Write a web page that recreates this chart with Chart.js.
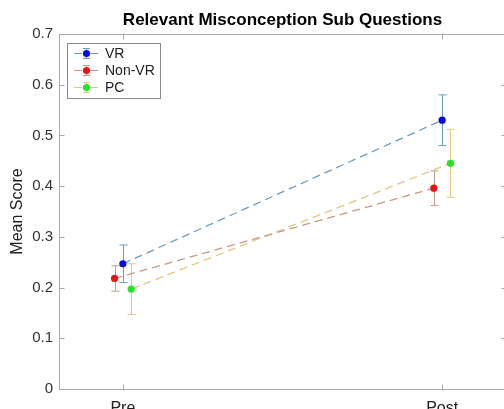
<!DOCTYPE html>
<html>
<head>
<meta charset="utf-8">
<script src="https://cdn.jsdelivr.net/npm/chart.js@4/dist/chart.umd.min.js"></script>
<style>
html,body{margin:0;padding:0;overflow:hidden;background:#fff;}
#wrap{position:absolute;left:0;top:0;width:512px;height:420px;}
</style>
</head>
<body>
<div id="wrap"><canvas id="c" width="512" height="420"></canvas></div>
<script>
// ---- data ----
const categories = ['Pre', 'Post'];
const seriesNames = ['VR', 'Non-VR', 'PC'];
const vrMean = [0.247, 0.530];
const vrErr = [0.037, 0.050];
const nonVrMean = [0.218, 0.396];
const nonVrErr = [0.025, 0.034];
const pcMean = [0.197, 0.445];
const pcErr = [0.050, 0.067];
const yTicks = [0, 0.1, 0.2, 0.3, 0.4, 0.5, 0.6, 0.7];
const chartTitle = 'Relevant Misconception Sub Questions';
const yTitle = 'Mean Score';

// ---- styles ----
const lineColors = ['#6a9fbd', '#c49a86', '#e3c77f'];
const markerColors = ['#0a0ae6', '#e81414', '#22e622'];
const xOffsets = [0, -0.026, 0.026];
const FONT = '"Liberation Sans", Arial, Helvetica, sans-serif';
const AXIS = '#a9a9a9';

const means = [vrMean, nonVrMean, pcMean];
const errs = [vrErr, nonVrErr, pcErr];

const datasets = seriesNames.map((name, s) => ({
  label: name,
  data: categories.map((c, i) => ({x: i + 1 + xOffsets[s], y: means[s][i], e: errs[s][i]})),
  borderColor: lineColors[s],
  borderWidth: 1.3,
  borderDash: [8, 5],
  pointRadius: 3.6,
  pointBackgroundColor: markerColors[s],
  pointBorderColor: markerColors[s],
  pointBorderWidth: 0,
  fill: false,
  tension: 0
}));

const decor = {
  id: 'decor',
  beforeDatasetsDraw(chart) {
    const ctx = chart.ctx, xs = chart.scales.x, ys = chart.scales.y;
    ctx.save();
    chart.data.datasets.forEach((ds, s) => {
      ctx.strokeStyle = lineColors[s];
      ctx.lineWidth = 1;
      ds.data.forEach(p => {
        const px = Math.round(xs.getPixelForValue(p.x)) + 0.5;
        const t = ys.getPixelForValue(p.y + p.e);
        const b = ys.getPixelForValue(p.y - p.e);
        ctx.beginPath();
        ctx.moveTo(px, t); ctx.lineTo(px, b);
        ctx.moveTo(px - 4, t); ctx.lineTo(px + 4, t);
        ctx.moveTo(px - 4, b); ctx.lineTo(px + 4, b);
        ctx.stroke();
      });
    });
    ctx.restore();
  },
  afterDraw(chart) {
    const ctx = chart.ctx, xs = chart.scales.x, ys = chart.scales.y;
    const a = chart.chartArea;
    ctx.save();
    // titles
    ctx.fillStyle = '#000';
    ctx.font = 'bold 17px ' + FONT;
    ctx.textAlign = 'center';
    ctx.textBaseline = 'middle';
    ctx.fillText(chartTitle, (a.left + a.right) / 2, 20);
    ctx.save();
    ctx.translate(18, (a.top + a.bottom) / 2);
    ctx.rotate(-Math.PI / 2);
    ctx.fillStyle = '#222';
    ctx.font = '16px ' + FONT;
    ctx.fillText(yTitle, 0, 0);
    ctx.restore();

    // box and inward ticks
    ctx.strokeStyle = AXIS;
    ctx.lineWidth = 1;
    const L = Math.round(a.left) + 0.5, R = Math.round(a.right) + 0.5;
    const T = Math.round(a.top) + 0.5, B = Math.round(a.bottom) + 0.5;
    ctx.strokeRect(L, T, R - L, B - T);
    ctx.beginPath();
    yTicks.forEach(v => {
      const py = Math.round(ys.getPixelForValue(v)) + 0.5;
      ctx.moveTo(L, py); ctx.lineTo(L + 5, py);
      ctx.moveTo(R, py); ctx.lineTo(R - 5, py);
    });
    categories.forEach((c, i) => {
      const px = Math.round(xs.getPixelForValue(i + 1)) + 0.5;
      ctx.moveTo(px, B); ctx.lineTo(px, B - 5);
      ctx.moveTo(px, T); ctx.lineTo(px, T + 5);
    });
    ctx.stroke();

    // legend
    const lx = 67.5, ly = 43.5, lw = 93, lh = 55;
    ctx.fillStyle = '#fff';
    ctx.fillRect(lx, ly, lw, lh);
    ctx.strokeStyle = '#8a8a8a';
    ctx.strokeRect(lx, ly, lw, lh);
    seriesNames.forEach((name, s) => {
      const cy = 53 + s * 17;
      const mx = 86;
      ctx.strokeStyle = lineColors[s];
      ctx.lineWidth = 1;
      ctx.beginPath();
      ctx.moveTo(74, cy + 0.5); ctx.lineTo(82, cy + 0.5);
      ctx.moveTo(90, cy + 0.5); ctx.lineTo(98, cy + 0.5);
      ctx.moveTo(mx + 0.5, cy - 5); ctx.lineTo(mx + 0.5, cy + 5);
      ctx.moveTo(mx - 3, cy - 5 + 0.5); ctx.lineTo(mx + 4, cy - 5 + 0.5);
      ctx.moveTo(mx - 3, cy + 5 + 0.5); ctx.lineTo(mx + 4, cy + 5 + 0.5);
      ctx.stroke();
      ctx.fillStyle = markerColors[s];
      ctx.beginPath();
      ctx.arc(mx + 0.5, cy + 0.5, 3.6, 0, Math.PI * 2);
      ctx.fill();
      ctx.fillStyle = '#222';
      ctx.font = '14px ' + FONT;
      ctx.textBaseline = 'middle';
      ctx.textAlign = 'left';
      ctx.fillText(name, 105, cy + 1);
    });
    ctx.restore();
  }
};

new Chart(document.getElementById('c'), {
  type: 'line',
  data: {datasets},
  options: {
    responsive: false,
    animation: false,
    devicePixelRatio: 1,
    layout: {padding: {left: 0, right: 6, top: 34, bottom: 0}},
    plugins: {
      legend: {display: false},
      tooltip: {enabled: false},
      title: {display: false}
    },
    scales: {
      x: {
        type: 'linear',
        min: 0.8, max: 2.2,
        grid: {display: false, drawTicks: false},
        border: {display: false},
        afterBuildTicks: sc => { sc.ticks = categories.map((c, i) => ({value: i + 1})); },
        ticks: {
          callback: v => categories[Math.round(v) - 1] || '',
          color: '#222',
          padding: 10,
          maxRotation: 0,
          font: {family: FONT, size: 16}
        },
        afterFit: sc => { sc.height = 31; }
      },
      y: {
        min: 0, max: 0.7,
        grid: {display: false, drawTicks: false},
        border: {display: false},
        afterBuildTicks: sc => { sc.ticks = yTicks.map(v => ({value: v})); },
        ticks: {
          callback: v => (Math.round(v * 10) / 10).toString(),
          color: '#333',
          padding: 6,
          font: {family: FONT, size: 15}
        },
        afterFit: sc => { sc.width = 59; }
      }
    }
  },
  plugins: [decor]
});
</script>
</body>
</html>
